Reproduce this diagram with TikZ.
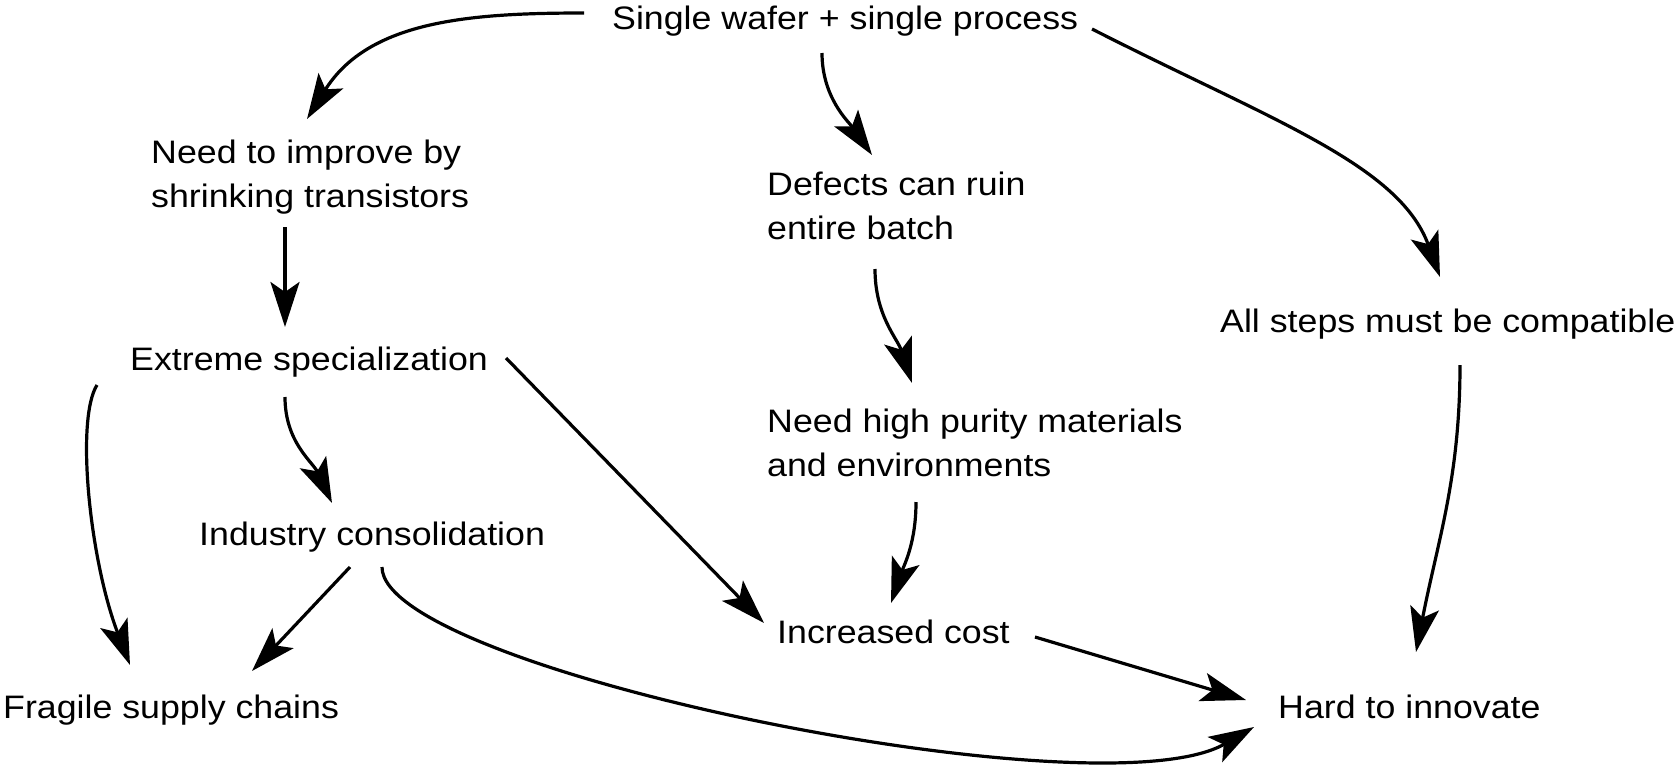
\documentclass[tikz,border=0pt]{standalone}
\usepackage{fontspec}
\setmainfont{Liberation Sans}[FakeStretch=1.1]
\usetikzlibrary{arrows.meta,calc}
\begin{document}
\begin{tikzpicture}[x=1pt,y=1pt,
  lbl/.style={anchor=base west, inner sep=0pt, font=\fontsize{32.5}{44}\selectfont, align=left},
  edge/.style={line width=3.2pt, -{Stealth[length=45pt,width=29pt,inset=10pt]}},
]
\useasboundingbox (0,0) rectangle (1679,-764);
% nodes (base = baseline of the last line)
\node[lbl] (top)      at (612,-29)  {Single wafer + single process};
\node[lbl] (need)     at (151,-207) {Need to improve by\\shrinking transistors};
\node[lbl] (defects)  at (767,-239) {Defects can ruin\\entire batch};
\node[lbl] (allsteps) at (1220,-332){All steps must be compatible};
\node[lbl] (extreme)  at (130,-370) {Extreme specialization};
\node[lbl] (purity)   at (767,-476) {Need high purity materials\\and environments};
\node[lbl] (industry) at (199,-545) {Industry consolidation};
\node[lbl] (cost)     at (777,-643) {Increased cost};
\node[lbl] (fragile)  at (3,-718)   {Fragile supply chains};
\node[lbl] (hard)     at (1278,-718){Hard to innovate};
% connectors
\draw[edge] ($(top.base west)+(-28,16)$) to[out=180,in=58] ($(need.base west)+(156,88)$);
\draw[edge] ($(top.base west)+(210,-24)$) to[out=270,in=125,out distance=45,in distance=40] ($(defects.base west)+(105,84)$);
\draw[edge] ($(top.base west)+(480,0)$) to[out=-27,in=110,out distance=200,in distance=120] ($(allsteps.base west)+(220,55)$);
\draw[edge] ($(need.base west)+(134,-20)$) -- ($(extreme.base west)+(155,43)$);
\draw[edge] ($(extreme.base west)+(-33,-15)$) to[out=238,in=111,out distance=41,in distance=112] ($(fragile.base west)+(127,53)$);
\draw[edge] ($(extreme.base west)+(155,-27)$) to[out=270,in=115] ($(industry.base west)+(133,42)$);
\draw[edge] ($(extreme.base west)+(376,12)$) -- ($(cost.base west)+(-13,20)$);
\draw[edge] ($(industry.base west)+(151,-22)$) -- ($(fragile.base west)+(249,47)$);
\draw[edge] ($(industry.base west)+(183,-22)$) to[out=270,in=210,out distance=103,in distance=177] ($(hard.base west)+(-24,-9)$);
\draw[edge] ($(defects.base west)+(108,-30)$) to[out=270,in=108] ($(purity.base west)+(145,93)$);
\draw[edge] ($(purity.base west)+(149,-26)$) to[out=270,in=71] ($(cost.base west)+(114,40)$);
\draw[edge] ($(allsteps.base west)+(240,-33)$) to[out=270,in=79] ($(hard.base west)+(138,66)$);
\draw[edge] ($(cost.base west)+(258,6)$) -- ($(hard.base west)+(-32,18)$);
\end{tikzpicture}
\end{document}
